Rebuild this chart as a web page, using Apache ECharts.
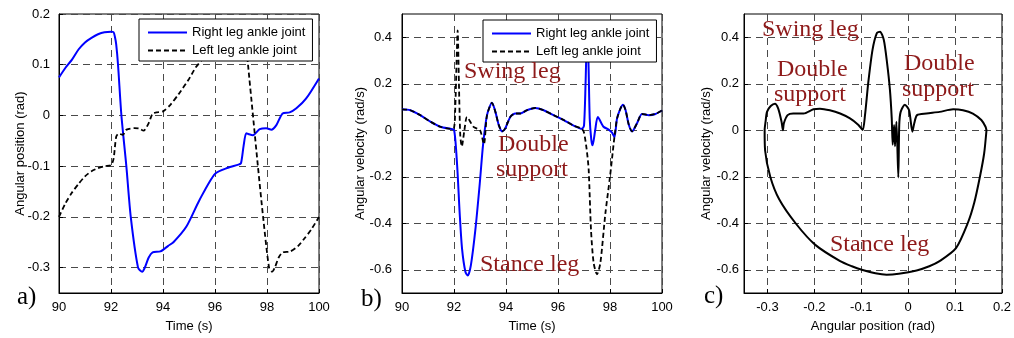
<!DOCTYPE html>
<html>
<head>
<meta charset="utf-8">
<script src="https://cdn.jsdelivr.net/npm/echarts@6/dist/echarts.min.js"></script>
<style>
html,body{margin:0;padding:0;background:#fff;}
#c{width:1014px;height:338px;}
</style>
</head>
<body>
<div id="c"></div>
<script>
// ---- Data ----
const rightPosT = [90, 90.25, 90.5, 90.75, 91, 91.25, 91.5, 91.75, 92, 92.1, 92.15, 92.2, 92.27, 92.4, 92.59, 92.76, 93.04, 93.2, 93.3, 93.45, 93.6, 93.9, 94.2, 94.4, 94.9, 95.4, 96, 96.5, 96.9, 97.0, 97.1, 97.2, 97.3, 97.46, 97.72, 97.97, 98.17, 98.36, 98.6, 98.87, 99.13, 99.5, 100];
const rightPosV = [0.075, 0.094, 0.11, 0.13, 0.144, 0.153, 0.16, 0.164, 0.165, 0.164, 0.155, 0.14, 0.1, 0.0, -0.1, -0.2, -0.3, -0.308, -0.3, -0.28, -0.27, -0.268, -0.257, -0.25, -0.219, -0.167, -0.115, -0.103, -0.097, -0.094, -0.06, -0.035, -0.037, -0.039, -0.027, -0.025, -0.028, -0.019, 0.004, 0.006, 0.014, 0.033, 0.073];

const leftPosT = [90, 90.25, 90.5, 90.75, 91, 91.25, 91.5, 91.75, 92, 92.1, 92.2, 92.3, 92.45, 92.6, 92.9, 93.1, 93.25, 93.45, 93.6, 93.75, 94, 94.3, 94.6, 95, 95.25, 95.5, 95.75, 96, 96.25, 96.5, 96.75, 97, 97.1, 97.15, 97.2, 97.27, 97.46, 97.65, 97.85, 98.08, 98.2, 98.3, 98.45, 98.6, 98.9, 99.2, 99.4, 99.7, 100];
const leftPosV = [-0.2, -0.173, -0.152, -0.135, -0.12, -0.11, -0.104, -0.1, -0.098, -0.085, -0.042, -0.036, -0.038, -0.028, -0.025, -0.026, -0.03, -0.015, 0.004, 0.006, 0.008, 0.022, 0.042, 0.072, 0.094, 0.11, 0.13, 0.144, 0.153, 0.16, 0.163, 0.165, 0.164, 0.155, 0.14, 0.1, 0.0, -0.1, -0.2, -0.3, -0.308, -0.3, -0.28, -0.27, -0.268, -0.257, -0.245, -0.225, -0.2];

const rightVelT = [90, 90.32, 90.7, 91.09, 91.47, 91.86, 92, 92.12, 92.22, 92.31, 92.44, 92.53, 92.65, 92.82, 92.99, 93.12, 93.27, 93.46, 93.59, 93.72, 93.85, 93.97, 94.17, 94.36, 94.55, 94.8, 95.13, 95.45, 95.83, 96.22, 96.6, 96.92, 97.0, 97.06, 97.12, 97.17, 97.22, 97.28, 97.33, 97.43, 97.53, 97.75, 97.95, 98.08, 98.17, 98.27, 98.4, 98.5, 98.6, 98.72, 98.85, 99.04, 99.23, 99.5, 99.75, 100];
const rightVelV = [0.09, 0.086, 0.065, 0.037, 0.015, 0.006, 0.003, -0.15, -0.36, -0.51, -0.61, -0.625, -0.58, -0.43, -0.23, -0.06, 0.065, 0.118, 0.08, 0.023, -0.005, 0.008, 0.058, 0.072, 0.072, 0.086, 0.096, 0.086, 0.065, 0.044, 0.02, 0.006, 0.02, 0.2, 0.43, 0.3, 0.05, -0.04, -0.065, 0.0, 0.057, 0.015, 0.003, -0.01, -0.03, 0.05, 0.093, 0.11, 0.086, 0.025, -0.005, 0.03, 0.07, 0.065, 0.07, 0.085];

const leftVelT = [90, 90.32, 90.7, 91.09, 91.47, 91.86, 92, 92.05, 92.1, 92.14, 92.19, 92.24, 92.3, 92.4, 92.5, 92.75, 93.0, 93.15, 93.27, 93.46, 93.59, 93.72, 93.85, 93.97, 94.17, 94.36, 94.55, 94.8, 95.13, 95.45, 95.83, 96.22, 96.6, 96.92, 97.0, 97.1, 97.18, 97.27, 97.37, 97.5, 97.63, 97.82, 98.0, 98.08, 98.17, 98.27, 98.4, 98.5, 98.6, 98.72, 98.85, 99.04, 99.23, 99.5, 99.75, 100];
const leftVelV = [0.09, 0.086, 0.065, 0.037, 0.015, 0.006, 0.01, 0.1, 0.3, 0.43, 0.2, -0.02, -0.07, 0.0, 0.057, 0.015, 0.0, -0.06, 0.065, 0.118, 0.08, 0.023, -0.005, 0.008, 0.058, 0.072, 0.072, 0.086, 0.096, 0.086, 0.065, 0.044, 0.02, 0.006, -0.01, -0.08, -0.17, -0.43, -0.57, -0.62, -0.57, -0.36, -0.2, -0.12, -0.03, 0.05, 0.093, 0.11, 0.086, 0.025, -0.005, 0.03, 0.07, 0.065, 0.07, 0.085];

const phaseX = [0.167, 0.162, 0.153, 0.141, 0.127, 0.102, 0.067, 0.045, 0.018, -0.02, -0.046, -0.07, -0.099, -0.12, -0.145, -0.198, -0.24, -0.275, -0.294, -0.305, -0.306, -0.304, -0.301, -0.293, -0.284, -0.277, -0.270, -0.267, -0.265, -0.257, -0.245, -0.223, -0.202, -0.188, -0.167, -0.145, -0.124, -0.106, -0.097, -0.092, -0.085, -0.076, -0.067, -0.060, -0.052, -0.045, -0.039, -0.035, -0.033, -0.030, -0.028, -0.025, -0.021, -0.019, -0.016, -0.007, 0.002, 0.009, 0.013, 0.019, 0.039, 0.067, 0.096, 0.117, 0.138, 0.156, 0.165, 0.167];
const phaseY = [0, -0.1, -0.2, -0.311, -0.4, -0.507, -0.563, -0.585, -0.603, -0.617, -0.621, -0.615, -0.6, -0.585, -0.563, -0.493, -0.4, -0.297, -0.2, -0.087, 0, 0.037, 0.079, 0.104, 0.114, 0.093, 0.037, 0.0, 0.03, 0.065, 0.072, 0.072, 0.09, 0.093, 0.086, 0.072, 0.051, 0.023, 0.001, 0.065, 0.206, 0.346, 0.417, 0.424, 0.389, 0.29, 0.177, 0.051, -0.062, 0.023, -0.069, 0.037, -0.203, 0.023, 0.079, 0.11, 0.086, -0.006, 0.03, 0.065, 0.072, 0.079, 0.09, 0.086, 0.072, 0.044, 0.015, 0];

const posTicks = [-0.3, -0.2, -0.1, 0, 0.1, 0.2];
const velTicks = [-0.6, -0.4, -0.2, 0, 0.2, 0.4];
const seriesNames = ['Right leg ankle joint', 'Left leg ankle joint'];

// ---- Helpers ----
const zip = (a, b) => a.map((v, i) => [v, b[i]]);
const SANS = 'Liberation Sans, Arial, sans-serif';
const SERIF = 'Liberation Serif, Times New Roman, serif';
const RED = '#8e1a1a';
const gridLine = { show: true, lineStyle: { color: '#4a4a4a', width: 1, type: [7, 5] } };
const labelStyle = (margin, custom) => {
  const o = { color: '#000', fontSize: 13, fontFamily: SANS, margin: margin };
  if (custom) o.customValues = custom;
  return o;
};
const tickStyle = (custom) => {
  const o = { show: true, inside: true, length: 4, lineStyle: { color: '#000' } };
  if (custom) o.customValues = custom;
  return o;
};

function valAxis(grid, opts) {
  return Object.assign({
    type: 'value', gridIndex: grid,
    axisLine: { show: true, onZero: false, lineStyle: { color: '#000', width: 1 } },
    axisTick: tickStyle(null),
    axisLabel: labelStyle(8, null),
    splitLine: gridLine,
    nameLocation: 'middle',
    nameMoveOverlap: false,
    nameTextStyle: { color: '#000', fontSize: 13, fontFamily: SANS }
  }, opts);
}

const xAxes = [
  valAxis(0, { min: 90, max: 100, interval: 2, name: 'Time (s)', nameGap: 27, axisLabel: labelStyle(8, null) }),
  valAxis(1, { min: 90, max: 100, interval: 2, name: 'Time (s)', nameGap: 27, axisLabel: labelStyle(8, null) }),
  valAxis(2, { min: -0.35, max: 0.2, name: 'Angular position (rad)', nameGap: 27,
    axisLabel: labelStyle(8, posTicks), axisTick: tickStyle(posTicks) })
];
const yAxes = [
  valAxis(0, { min: -0.35, max: 0.2, name: 'Angular position (rad)', nameGap: 32,
    axisLabel: labelStyle(9, posTicks), axisTick: tickStyle(posTicks) }),
  valAxis(1, { min: -0.7, max: 0.5, name: 'Angular velocity (rad/s)', nameGap: 35,
    axisLabel: labelStyle(10, velTicks), axisTick: tickStyle(velTicks) }),
  valAxis(2, { min: -0.7, max: 0.5, name: 'Angular velocity (rad/s)', nameGap: 31,
    axisLabel: labelStyle(5, velTicks), axisTick: tickStyle(velTicks) })
];

function legendAt(left, top) {
  return {
    data: seriesNames, orient: 'vertical', left: left, top: top,
    itemWidth: 39, itemHeight: 14, itemGap: 5,
    padding: [7, 7, 4, 8],
    borderColor: '#000', borderWidth: 1, backgroundColor: '#fff',
    itemStyle: { color: 'transparent', borderColor: 'transparent', borderWidth: 0, opacity: 0 },
    textStyle: { color: '#000', fontSize: 13, fontFamily: SANS },
    selectedMode: false, z: 10
  };
}

function txt(text, x, y, size, color) {
  return { type: 'text', x: x, y: y, z: 20,
    style: { text: text, font: size + 'px ' + SERIF, fill: color, textAlign: 'left', textVerticalAlign: 'middle' } };
}

const blueStyle = { color: '#0000ff', width: 2 };
const dashStyle = { color: '#000', width: 1.8, type: [5, 3] };

const option = {
  animation: false,
  backgroundColor: '#fff',
  grid: [
    { left: 59, top: 14, width: 260, height: 284, show: true, borderColor: '#000', borderWidth: 1, backgroundColor: 'transparent' },
    { left: 402, top: 14, width: 260, height: 285, show: true, borderColor: '#000', borderWidth: 1, backgroundColor: 'transparent' },
    { left: 744, top: 14, width: 260, height: 285, show: true, borderColor: '#000', borderWidth: 1, backgroundColor: 'transparent' }
  ],
  xAxis: xAxes,
  yAxis: yAxes,
  legend: [legendAt(139, 19), legendAt(483, 20)],
  series: [
    { name: seriesNames[0], type: 'line', xAxisIndex: 0, yAxisIndex: 0, data: zip(rightPosT, rightPosV), symbol: 'none', smooth: 0.25, lineStyle: blueStyle, itemStyle: { color: '#0000ff' }, z: 3 },
    { name: seriesNames[1], type: 'line', xAxisIndex: 0, yAxisIndex: 0, data: zip(leftPosT, leftPosV), symbol: 'none', smooth: 0.25, lineStyle: dashStyle, itemStyle: { color: '#000' }, z: 4 },
    { name: seriesNames[0], type: 'line', xAxisIndex: 1, yAxisIndex: 1, data: zip(rightVelT, rightVelV), symbol: 'none', smooth: 0.25, lineStyle: blueStyle, itemStyle: { color: '#0000ff' }, z: 3 },
    { name: seriesNames[1], type: 'line', xAxisIndex: 1, yAxisIndex: 1, data: zip(leftVelT, leftVelV), symbol: 'none', smooth: 0.25, lineStyle: dashStyle, itemStyle: { color: '#000' }, z: 4 },
    { name: 'Phase', type: 'line', xAxisIndex: 2, yAxisIndex: 2, data: zip(phaseX, phaseY), symbol: 'none', smooth: 0.25, lineStyle: { color: '#000', width: 2 }, itemStyle: { color: '#000' }, z: 3 }
  ],
  graphic: [
    txt('a)', 17, 297, 25, '#000'),
    txt('b)', 361, 299, 25, '#000'),
    txt('c)', 704, 296, 25, '#000'),
    txt('Swing leg', 464, 72, 24, RED),
    txt('Double', 498, 145, 24, RED),
    txt('support', 496, 170, 24, RED),
    txt('Stance leg', 480, 265, 24, RED),
    txt('Swing leg', 762, 30, 24, RED),
    txt('Double', 777, 70, 24, RED),
    txt('support', 774, 95, 24, RED),
    txt('Double', 904, 64, 24, RED),
    txt('support', 902, 90, 24, RED),
    txt('Stance leg', 830, 245, 24, RED)
  ]
};

const chart = echarts.init(document.getElementById('c'), null, { renderer: 'canvas' });
chart.setOption(option);
</script>
</body>
</html>
